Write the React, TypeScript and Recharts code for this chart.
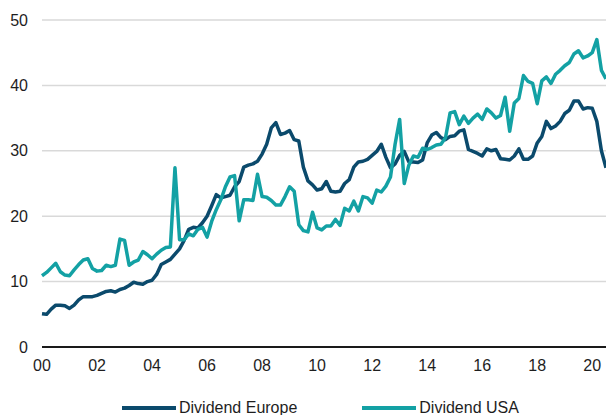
import React from 'react';
import { LineChart, Line, XAxis, YAxis, CartesianGrid, Legend } from 'recharts';

// Bi-monthly observations starting January 2000
const startYear = 2000;
const stepsPerYear = 6;

const dividendEurope = [
  5.1, 5.0, 5.8, 6.4, 6.4, 6.3, 5.9, 6.4, 7.2, 7.7, 7.7, 7.7,
  7.9, 8.2, 8.5, 8.6, 8.4, 8.8, 9.0, 9.4, 9.9, 9.7, 9.6, 10.0,
  10.2, 11.1, 12.6, 13.0, 13.4, 14.2, 15.0, 16.3, 18.0, 18.3, 18.2, 19.0,
  20.0, 21.6, 23.3, 22.8, 23.0, 23.2, 24.5, 25.3, 27.5, 27.8, 28.0, 28.4,
  29.5, 31.0, 33.5, 34.3, 32.5, 32.7, 33.1, 31.7, 31.5, 27.5, 25.4, 24.8,
  24.0, 24.2, 25.3, 23.8, 23.7, 23.8, 25.0, 25.6, 27.5, 28.3, 28.4, 28.7,
  29.3, 29.9, 31.0, 29.0, 27.4, 28.0, 29.3, 29.9, 28.3, 28.3, 28.2, 28.6,
  31.2, 32.4, 32.8, 32.0, 31.7, 32.2, 32.3, 33.0, 33.2, 30.2, 29.9, 29.6,
  29.2, 30.3, 30.0, 30.2, 28.8, 28.7, 28.6, 29.2, 30.3, 28.7, 28.7, 29.2,
  31.2, 32.2, 34.5, 33.4, 33.8, 34.5, 35.7, 36.2, 37.6, 37.6, 36.4, 36.6,
  36.5, 34.5, 30.0, 27.4,
];

const dividendUSA = [
  10.9, 11.4, 12.1, 12.8, 11.5, 11.0, 10.9, 11.8, 12.6, 13.3, 13.5, 12.0,
  11.6, 11.7, 12.5, 12.3, 12.5, 16.5, 16.3, 12.5, 13.0, 13.3, 14.6, 14.1,
  13.5, 14.2, 14.8, 15.2, 15.3, 27.4, 16.4, 16.4, 17.3, 17.0, 18.0, 18.3,
  16.8, 19.2, 21.0, 22.5, 24.5, 26.0, 26.2, 19.3, 22.5, 22.5, 22.4, 26.4,
  23.0, 22.9, 22.4, 21.7, 21.7, 23.0, 24.5, 23.8, 18.7, 17.8, 17.6, 20.6,
  18.2, 17.9, 18.5, 18.5, 19.5, 18.6, 21.2, 20.8, 22.3, 20.8, 23.0, 22.8,
  22.0, 24.0, 23.7, 24.6, 26.0, 31.0, 34.8, 25.0, 27.8, 29.2, 29.0, 30.4,
  30.2, 30.5, 30.9, 31.0, 32.0, 35.8, 36.0, 34.0, 35.3, 34.2, 35.0, 35.6,
  34.8, 36.4, 35.8, 35.0, 35.4, 38.2, 33.0, 37.3, 38.0, 41.5, 40.6, 40.3,
  37.2, 40.7, 41.3, 40.3, 41.7, 42.3, 43.0, 43.5, 44.8, 45.3, 44.2, 44.5,
  45.0, 47.0, 42.3, 41.0,
];

const xTicks = [2000, 2002, 2004, 2006, 2008, 2010, 2012, 2014, 2016, 2018, 2020];
const yTicks = [0, 10, 20, 30, 40, 50];

const NAVY = '#0b4a6c';
const TEAL = '#13a1a4';
const FONT = '"Liberation Sans", Arial, sans-serif';
const TEXT = '#1e1e1e';

const data = dividendEurope.map((v, i) => ({
  t: startYear + i / stepsPerYear,
  europe: v,
  usa: dividendUSA[i],
}));

const renderLegend = (props: any) => {
  const { payload = [] } = props;
  return (
    <div
      style={{
        display: 'flex',
        alignItems: 'center',
        paddingLeft: 122,
        paddingTop: 6,
        height: 36,
        boxSizing: 'border-box',
        fontFamily: FONT,
        fontSize: 16,
        color: TEXT,
        whiteSpace: 'nowrap',
      }}
    >
      {payload.map((entry: any, idx: number) => (
        <div
          key={entry.value}
          style={{ display: 'flex', alignItems: 'center', marginLeft: idx === 0 ? 0 : 65 }}
        >
          <span
            style={{
              display: 'inline-block',
              width: 54,
              height: 4,
              background: entry.color,
              marginRight: 3,
            }}
          />
          <span>{entry.value}</span>
        </div>
      ))}
    </div>
  );
};

export default function App() {
  return (
    <div style={{ position: 'absolute', left: 0, top: 0 }}>
      <style>{'body{margin:0;overflow:hidden;}'}</style>
      <LineChart
        width={606}
        height={430}
        data={data}
        margin={{ top: 20, right: 0, left: 0, bottom: 7 }}
      >
        <CartesianGrid vertical={false} stroke="#d9d9d9" strokeWidth={1.5} />
        <XAxis
          dataKey="t"
          type="number"
          domain={[2000, 2020.5]}
          ticks={xTicks}
          tickFormatter={(v: number) => String(Math.round(v) % 100).padStart(2, '0')}
          axisLine={{ stroke: '#1a1a1a', strokeWidth: 2 }}
          tickLine={false}
          tickMargin={7}
          height={40}
          tick={{ fill: TEXT, fontSize: 16, fontFamily: FONT }}
          interval={0}
        />
        <YAxis
          domain={[0, 50]}
          ticks={yTicks}
          axisLine={false}
          tickLine={false}
          tickMargin={8}
          width={42}
          tick={{ fill: TEXT, fontSize: 16, fontFamily: FONT }}
        />
        <Legend
          verticalAlign="bottom"
          height={36}
          content={renderLegend}
          wrapperStyle={{ left: 0, width: 606 }}
        />
        <Line
          type="linear"
          dataKey="europe"
          name="Dividend Europe"
          stroke={NAVY}
          strokeWidth={3.5}
          strokeLinejoin="round"
          dot={false}
          isAnimationActive={false}
        />
        <Line
          type="linear"
          dataKey="usa"
          name="Dividend USA"
          stroke={TEAL}
          strokeWidth={3.5}
          strokeLinejoin="round"
          dot={false}
          isAnimationActive={false}
        />
      </LineChart>
    </div>
  );
}
